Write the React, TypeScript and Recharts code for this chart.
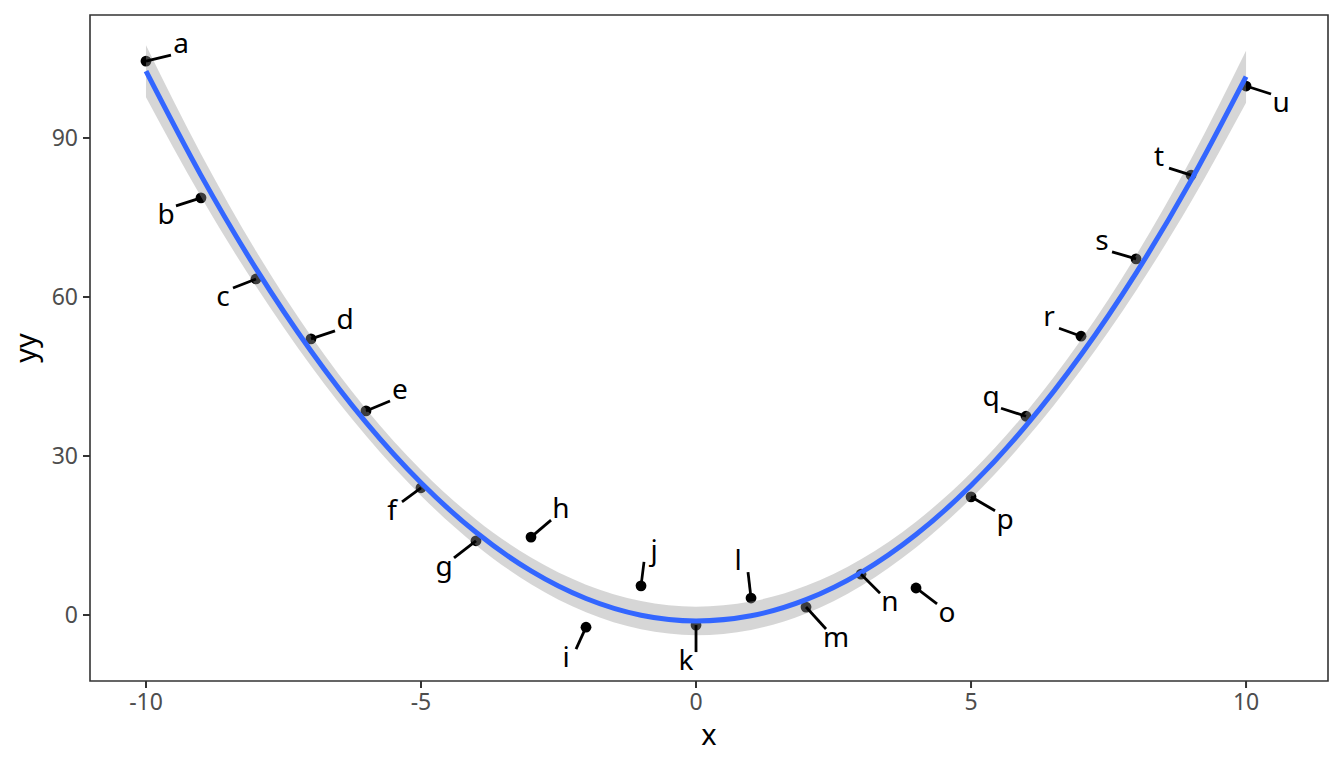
import React from "react";
import {
  ComposedChart,
  Scatter,
  Area,
  Line,
  XAxis,
  YAxis,
  ReferenceArea,
} from "recharts";

// observed points
const X_VALUES = [-10, -9, -8, -7, -6, -5, -4, -3, -2, -1, 0, 1, 2, 3, 4, 5, 6, 7, 8, 9, 10];
const Y_VALUES = [
  104.5, 78.7, 63.4, 52.1, 38.5, 24.0, 14.0, 14.7, -2.3, 5.5, -1.9, 3.2, 1.5, 7.7, 5.1, 22.3,
  37.5, 52.6, 67.2, 83.0, 99.8,
];
const LABELS = ["a", "b", "c", "d", "e", "f", "g", "h", "i", "j", "k", "l", "m", "n", "o", "p", "q", "r", "s", "t", "u"];

// smoother, with its grey band
const FIT = [
  102.6, 82.94, 65.34, 49.81, 36.34, 24.94, 15.6, 8.32, 3.11, -0.04, -1.12, -0.14, 2.9, 8.01,
  15.18, 24.42, 35.72, 49.09, 64.51, 82.0, 101.56,
];
const FIT_LOWER = [
  97.69, 78.9, 62.01, 46.98, 33.81, 22.52, 13.17, 5.8, 0.5, -2.71, -3.82, -2.81, 0.29, 5.49,
  12.75, 22.0, 33.19, 46.26, 61.18, 77.96, 96.65,
];
const FIT_UPPER = [
  107.51, 86.98, 68.67, 52.64, 38.87, 27.36, 18.03, 10.84, 5.72, 2.63, 1.58, 2.53, 5.51, 10.53,
  17.61, 26.84, 38.25, 51.92, 67.84, 86.04, 106.47,
];

const X_TICKS = [-10, -5, 0, 5, 10];
const Y_TICKS = [0, 30, 60, 90];

// where the repelled labels ended up, px from their point
const NUDGE: Record<string, [number, number]> = {
  a: [35, -16],
  b: [-35, 18],
  c: [-33, 19],
  d: [34, -18],
  e: [34, -20],
  f: [-29, 24],
  g: [-32, 27],
  h: [30, -27],
  i: [-20, 32],
  j: [13, -34],
  k: [-10, 37],
  l: [-13, -36],
  m: [30, 32],
  n: [29, 29],
  o: [31, 26],
  p: [34, 24],
  q: [-35, -18],
  r: [-32, -18],
  s: [-34, -17],
  t: [-32, -17],
  u: [35, 18],
};

const points = X_VALUES.map((x, i) => ({ x, y: Y_VALUES[i], label: LABELS[i] }));
const curve = X_VALUES.map((x, i) => ({
  x,
  fit: FIT[i],
  band: [FIT_LOWER[i], FIT_UPPER[i]],
}));

const X_DOMAIN: [number, number] = [-11.018, 11.49];
const Y_DOMAIN: [number, number] = [-12.45, 113.2];
const FONT = "'Noto Sans', 'Open Sans', sans-serif";

const Dot = (props: any) => {
  const { cx, cy } = props;
  return <circle cx={cx} cy={cy} r={5.4} fill="#000000" />;
};

const RepelLabel = (props: any) => {
  const { cx, cy, payload } = props;
  const [dx, dy] = NUDGE[payload.label] || [0, 0];
  const lx = cx + dx;
  const ly = cy + dy;
  // segment stops at the edge of the label box
  const ex = Math.min(Math.max(cx, lx - 10), lx + 10);
  const ey = Math.min(Math.max(cy, ly - 10), ly + 10);
  return (
    <g>
      <line x1={cx} y1={cy} x2={ex} y2={ey} stroke="#000000" strokeWidth={2.8} />
      <text
        x={lx}
        y={ly + 8}
        textAnchor="middle"
        fontSize={28}
        fontFamily={FONT}
        fill="#000000"
      >
        {payload.label}
      </text>
    </g>
  );
};

export default function App() {
  return (
    <div style={{ position: "absolute", left: 0, top: 0, background: "#ffffff" }}>
      <ComposedChart
        width={1344}
        height={768}
        data={curve}
        margin={{ top: 15, right: 16, bottom: 0, left: 0 }}
        style={{ fontFamily: FONT }}
      >
        <XAxis
          dataKey="x"
          type="number"
          domain={X_DOMAIN}
          ticks={X_TICKS}
          allowDataOverflow
          height={87}
          axisLine={false}
          tickLine={{ stroke: "#333333", strokeWidth: 2 }}
          tickSize={7}
          tickMargin={6}
          tick={{ fill: "#4D4D4D", fontSize: 23 }}
          label={{
            content: (p: any) => {
              const vb = p.viewBox;
              return (
                <text x={vb.x + vb.width / 2} y={745} textAnchor="middle" fontSize={29} fill="#000000">
                  x
                </text>
              );
            },
          }}
        />
        <YAxis
          type="number"
          domain={Y_DOMAIN}
          ticks={Y_TICKS}
          allowDataOverflow
          width={90}
          axisLine={false}
          tickLine={{ stroke: "#333333", strokeWidth: 2 }}
          tickSize={7}
          tickMargin={5}
          tick={{ fill: "#4D4D4D", fontSize: 23 }}
          label={{
            content: (p: any) => {
              const vb = p.viewBox;
              const cy = vb.y + vb.height / 2;
              return (
                <text
                  x={36}
                  y={cy}
                  transform={`rotate(-90 36 ${cy})`}
                  textAnchor="middle"
                  fontSize={29}
                  fill="#000000"
                >
                  yy
                </text>
              );
            },
          }}
        />
        <Scatter
          data={points}
          dataKey="y"
          shape={<Dot />}
          zIndex={50}
          isAnimationActive={false}
        />
        <Area
          dataKey="band"
          type="monotone"
          stroke="none"
          fill="#999999"
          fillOpacity={0.4}
          zIndex={100}
          isAnimationActive={false}
          activeDot={false}
        />
        <Line
          dataKey="fit"
          type="monotone"
          stroke="#3366FF"
          strokeWidth={5}
          dot={false}
          activeDot={false}
          zIndex={400}
          isAnimationActive={false}
        />
        <Scatter
          data={points}
          dataKey="y"
          shape={<RepelLabel />}
          zIndex={600}
          isAnimationActive={false}
        />
        <ReferenceArea
          x1={X_DOMAIN[0]}
          x2={X_DOMAIN[1]}
          y1={Y_DOMAIN[0]}
          y2={Y_DOMAIN[1]}
          fill="none"
          stroke="#333333"
          strokeWidth={1.6}
          ifOverflow="visible"
          zIndex={700}
        />
      </ComposedChart>
    </div>
  );
}
